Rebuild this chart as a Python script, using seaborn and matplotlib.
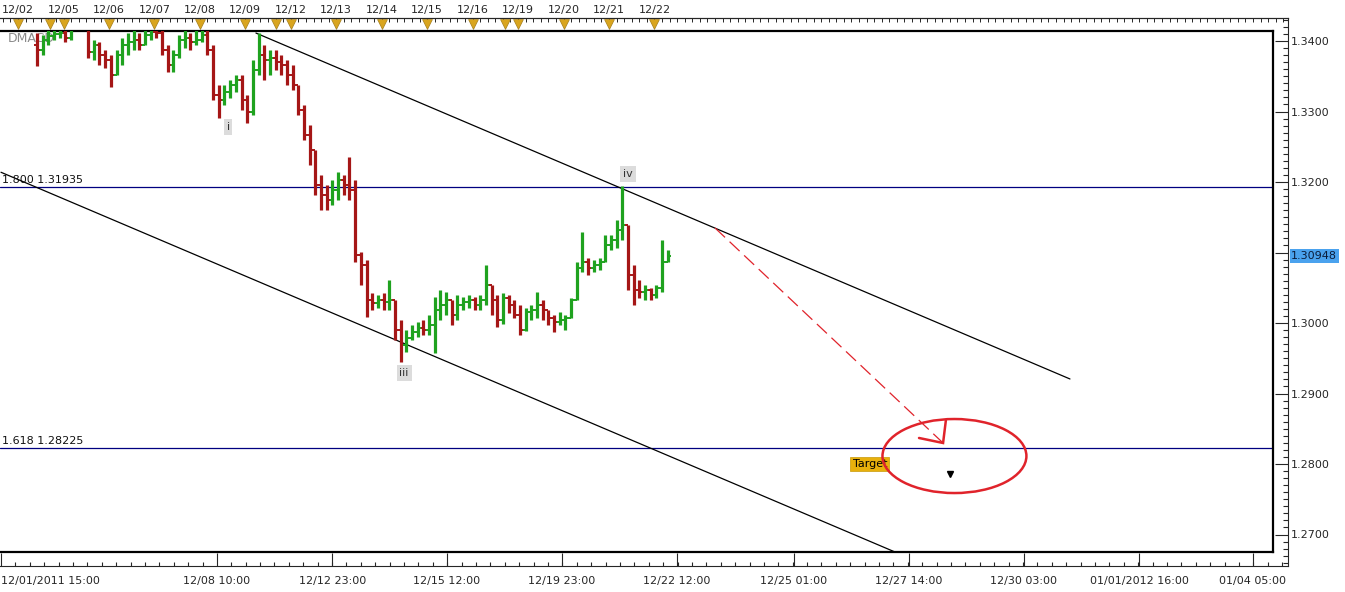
#!/usr/bin/env python3
"""
EUR/USD hourly bars with wave count, falling channel and the 1.618 target.

Usage:
    python plot.py
"""

import matplotlib
matplotlib.use("Agg")
import matplotlib.pyplot as plt
import numpy as np
import pandas as pd
import seaborn as sns
from matplotlib.patches import Ellipse
from matplotlib.ticker import FixedLocator

# ---- price bars (3-hour bars, open = previous close) ----
BAR_START = 19      # trading hours after 12/01 15:00
BAR_STEP = 3
FIRST_OPEN = 1.3395
CLOSE = [1.3387, 1.3401, 1.3407, 1.3410, 1.3411, 1.3404, 1.3425, 1.3435, 1.3422, 1.3384,
         1.3394, 1.3380, 1.3373, 1.3352, 1.3380, 1.3394, 1.3399, 1.3401, 1.3394, 1.3409,
         1.3413, 1.3411, 1.3387, 1.3366, 1.3380, 1.3401, 1.3404, 1.3399, 1.3401, 1.3409,
         1.3387, 1.3323, 1.3316, 1.3328, 1.3338, 1.3345, 1.3316, 1.3299, 1.3359, 1.3380,
         1.3373, 1.3376, 1.3370, 1.3366, 1.3352, 1.3338, 1.3302, 1.3267, 1.3245, 1.3196,
         1.3182, 1.3174, 1.3189, 1.3203, 1.3196, 1.3189, 1.3096, 1.3082, 1.3033, 1.3028,
         1.3033, 1.3030, 1.3033, 1.2990, 1.2969, 1.2979, 1.2987, 1.2993, 1.2990, 1.2997,
         1.3018, 1.3026, 1.3033, 1.3011, 1.3026, 1.3030, 1.3033, 1.3026, 1.3033, 1.3054,
         1.3033, 1.3004, 1.3035, 1.3026, 1.3011, 1.2990, 1.3016, 1.3018, 1.3026, 1.3018,
         1.3007, 1.3001, 1.3004, 1.3007, 1.3033, 1.3078, 1.3087, 1.3078, 1.3082, 1.3087,
         1.3111, 1.3118, 1.3132, 1.3139, 1.3068, 1.3047, 1.3044, 1.3047, 1.3040, 1.3050,
         1.3087, 1.3095]
HIGH = [1.3411, 1.3409, 1.3416, 1.3418, 1.3420, 1.3416, 1.3432, 1.3440, 1.3438, 1.3425,
        1.3401, 1.3399, 1.3387, 1.3380, 1.3387, 1.3404, 1.3411, 1.3416, 1.3411, 1.3418,
        1.3422, 1.3425, 1.3418, 1.3394, 1.3387, 1.3409, 1.3416, 1.3411, 1.3417, 1.3420,
        1.3418, 1.3394, 1.3338, 1.3338, 1.3345, 1.3352, 1.3352, 1.3323, 1.3373, 1.3411,
        1.3394, 1.3387, 1.3387, 1.3380, 1.3373, 1.3366, 1.3338, 1.3309, 1.3281, 1.3245,
        1.3210, 1.3196, 1.3203, 1.3214, 1.3210, 1.3235, 1.3203, 1.3101, 1.3089, 1.3043,
        1.3040, 1.3043, 1.3061, 1.3033, 1.3004, 1.2990, 1.2997, 1.3001, 1.3004, 1.3011,
        1.3037, 1.3047, 1.3044, 1.3033, 1.3040, 1.3037, 1.3040, 1.3037, 1.3040, 1.3082,
        1.3054, 1.3040, 1.3043, 1.3040, 1.3033, 1.3026, 1.3021, 1.3026, 1.3044, 1.3033,
        1.3018, 1.3011, 1.3016, 1.3011, 1.3035, 1.3087, 1.3129, 1.3092, 1.3089, 1.3092,
        1.3125, 1.3125, 1.3146, 1.3194, 1.3139, 1.3082, 1.3061, 1.3054, 1.3050, 1.3054,
        1.3118, 1.3104]
LOW = [1.3365, 1.3380, 1.3394, 1.3401, 1.3404, 1.3399, 1.3402, 1.3420, 1.3418, 1.3376,
       1.3373, 1.3366, 1.3362, 1.3335, 1.3352, 1.3366, 1.3380, 1.3387, 1.3387, 1.3394,
       1.3401, 1.3404, 1.3380, 1.3356, 1.3356, 1.3376, 1.3390, 1.3387, 1.3394, 1.3399,
       1.3380, 1.3316, 1.3291, 1.3309, 1.3319, 1.3328, 1.3302, 1.3284, 1.3295, 1.3352,
       1.3345, 1.3352, 1.3359, 1.3352, 1.3338, 1.3330, 1.3295, 1.3260, 1.3224, 1.3182,
       1.3160, 1.3160, 1.3167, 1.3174, 1.3182, 1.3174, 1.3087, 1.3054, 1.3009, 1.3018,
       1.3021, 1.3018, 1.3018, 1.2976, 1.2945, 1.2959, 1.2976, 1.2980, 1.2983, 1.2983,
       1.2957, 1.3004, 1.3011, 1.2997, 1.3004, 1.3018, 1.3021, 1.3018, 1.3018, 1.3026,
       1.3011, 1.2994, 1.2999, 1.3014, 1.3007, 1.2983, 1.2988, 1.3004, 1.3007, 1.3004,
       1.2997, 1.2987, 1.2997, 1.2990, 1.3007, 1.3033, 1.3072, 1.3068, 1.3072, 1.3075,
       1.3087, 1.3104, 1.3106, 1.3118, 1.3047, 1.3026, 1.3035, 1.3033, 1.3033, 1.3035,
       1.3044, 1.3087]
LAST_PRICE = 1.30948

# ---- axes labels ----
DAY_HOURS = [9, 33, 57, 81, 105, 129, 153, 177, 201, 225, 249, 273, 297, 321, 345]
DAY_LABELS = ["12/02", "12/05", "12/06", "12/07", "12/08", "12/09", "12/12", "12/13",
              "12/14", "12/15", "12/16", "12/19", "12/20", "12/21", "12/22"]
EVENT_HOURS = [9, 26, 33, 57, 81, 105, 129, 145, 153, 177, 201, 225, 249, 266, 273,
               297, 321, 345]
TIME_HOURS = [0, 114, 175, 235.5, 296, 357, 418.5, 479.5, 540, 601, 661]
TIME_LABELS = ["12/01/2011 15:00", "12/08 10:00", "12/12 23:00", "12/15 12:00",
               "12/19 23:00", "12/22 12:00", "12/25 01:00", "12/27 14:00",
               "12/30 03:00", "01/01/2012 16:00", "01/04 05:00"]
PRICE_TICKS = [1.27, 1.28, 1.29, 1.30, 1.31, 1.32, 1.33, 1.34]
PRICE_LABELS = ["1.2700", "1.2800", "1.2900", "1.3000", "", "1.3200", "1.3300", "1.3400"]

# ---- drawings ----
FIB_LEVELS = [1.31935, 1.28225]
FIB_LABELS = ["1.800 1.31935", "1.618 1.28225"]
UPPER_X, UPPER_Y = [134.6, 564.4], [1.34113, 1.29206]
LOWER_X, LOWER_Y = [0.0, 472.0], [1.32138, 1.26752]
WAVE_LABELS = ["i", "iii", "iv"]
WAVE_HOURS = [119.9, 212.8, 331.1]
WAVE_PRICES = [1.3278, 1.2929, 1.3211]
ARROW_X, ARROW_Y = [377.0, 497.4], [1.31348, 1.28298]
HEAD_X, HEAD_Y = [498.9, 497.4, 484.7], [1.28624, 1.28298, 1.28369]
TARGET_CENTER = (503.4, 1.28113)
TARGET_SIZE = (76.0, 0.0105)
TARGET_MARK = (501.0, 1.27858)
TARGET_BOX = (458.8, 1.2800)

UP, DOWN = "#1FA21F", "#A51616"
FIB_COLOR = "#000080"
RED = "#E0232B"

W, H = 1345, 592
PX_PER_HOUR = 1.894
PX_PER_PRICE = 7050.0


def h_of(px):
    return (px - 1) / PX_PER_HOUR


def p_of(py):
    return 1.3400 - (py - 41) / PX_PER_PRICE


def rect(x0, y0, x1, y1):
    return [x0 / W, 1 - y1 / H, (x1 - x0) / W, (y1 - y0) / H]


def draw_frame(fig):
    outer = fig.add_axes(rect(0, 18, 1288, 566))
    outer.set_zorder(0)
    outer.set_facecolor("white")
    outer.set_xlim(h_of(0), h_of(1288))
    outer.set_ylim(p_of(566), p_of(18))
    outer.spines["left"].set_visible(False)
    for s in ("top", "right", "bottom"):
        outer.spines[s].set_linewidth(0.8)

    outer.yaxis.set_major_locator(FixedLocator(PRICE_TICKS))
    outer.set_yticklabels(PRICE_LABELS)
    outer.yaxis.set_minor_locator(FixedLocator(np.arange(1.266, 1.3435, 0.001)))
    outer.tick_params(axis="y", which="both", left=False, right=True, labelleft=False,
                      labelright=True, direction="in", labelsize=8, pad=2, width=0.8)
    outer.tick_params(axis="y", which="major", length=9.4)
    outer.tick_params(axis="y", which="minor", length=3.6)

    outer.set_xticks(TIME_HOURS, TIME_LABELS)
    outer.xaxis.set_minor_locator(FixedLocator(np.arange(114 - 7.6 * 15, 680, 7.6)))
    outer.tick_params(axis="x", which="both", bottom=True, top=False, direction="in",
                      labelsize=8, pad=7, width=0.8)
    outer.tick_params(axis="x", which="major", length=9.4)
    outer.tick_params(axis="x", which="minor", length=3)
    outer.get_xticklabels()[0].set_ha("left")

    # date ruler along the top
    sec = outer.secondary_xaxis("top")
    sec.set_xticks(DAY_HOURS, DAY_LABELS)
    sec.xaxis.set_minor_locator(FixedLocator(np.arange(1, 680, 4)))
    sec.tick_params(which="both", direction="in", width=0.7, labelsize=8, pad=2)
    sec.tick_params(which="major", length=4.5)
    sec.tick_params(which="minor", length=3)
    sec.spines["top"].set_linewidth(0.8)
    outer.scatter(EVENT_HOURS, [0.989] * len(EVENT_HOURS),
                  transform=outer.get_xaxis_transform(), marker="v", s=50,
                  c="#D9A51E", edgecolors="#A57E1A", linewidths=0.5,
                  zorder=5, clip_on=False)

    # last price flag
    outer.text(1.0025, LAST_PRICE, f"{LAST_PRICE:.5f}", transform=outer.get_yaxis_transform(),
               ha="left", va="center", fontsize=8, color="#0B1C3A", zorder=6,
               bbox=dict(boxstyle="square,pad=0.15", fc="#4AA2EE", ec="none"))
    return outer


def draw_bars(ax):
    df = pd.DataFrame({"high": HIGH, "low": LOW, "close": CLOSE})
    df["hour"] = BAR_START + BAR_STEP * np.arange(len(df))
    df["open"] = [FIRST_OPEN] + CLOSE[:-1]
    df["up"] = df["close"] >= df["open"]
    for up, sub in df.groupby("up"):
        col = UP if up else DOWN
        ax.vlines(sub["hour"], sub["low"], sub["high"], color=col, lw=2.3, zorder=3)
        ax.hlines(sub["open"], sub["hour"] - 1.5, sub["hour"], color=col, lw=1.4, zorder=3)
        ax.hlines(sub["close"], sub["hour"], sub["hour"] + 1.5, color=col, lw=1.4, zorder=3)


def draw_studies(ax):
    for level, label in zip(FIB_LEVELS, FIB_LABELS):
        ax.axhline(level, color=FIB_COLOR, lw=0.9, zorder=2)
        ax.text(h_of(2), level + 0.00025, label, fontsize=8, color="#111111",
                ha="left", va="bottom", zorder=4)

    sns.lineplot(x=UPPER_X, y=UPPER_Y, ax=ax, color="black", lw=0.9, zorder=2)
    sns.lineplot(x=LOWER_X, y=LOWER_Y, ax=ax, color="black", lw=0.9, zorder=2)

    for lab, hx, py in zip(WAVE_LABELS, WAVE_HOURS, WAVE_PRICES):
        ax.text(hx, py, lab, fontsize=8, color="#333333", ha="center", va="center",
                zorder=5, bbox=dict(boxstyle="square,pad=0.25", fc="#DCDCDC", ec="none"))

    ax.plot(ARROW_X, ARROW_Y, color=RED, lw=0.9, dashes=(11, 5), zorder=4)
    ax.plot(HEAD_X, HEAD_Y, color=RED, lw=1.8, zorder=4, solid_joinstyle="miter")
    ax.add_patch(Ellipse(TARGET_CENTER, *TARGET_SIZE, fill=False, ec=RED, lw=1.8, zorder=4))
    ax.plot(*TARGET_MARK, marker="v", ms=4, color="black", zorder=5)
    ax.text(*TARGET_BOX, "Target", fontsize=8, color="black", ha="center", va="center",
            zorder=3, bbox=dict(boxstyle="square,pad=0.2", fc="#E8B00C", ec="#C99A08", lw=0.5))


def main():
    sns.set_style("white")
    plt.rcParams["font.family"] = ["DejaVu Sans"]

    fig = plt.figure(figsize=(W / 100, H / 100), dpi=100)
    fig.patch.set_facecolor("white")
    draw_frame(fig)

    ax = fig.add_axes(rect(0, 31, 1273, 552))
    ax.set_zorder(2)
    ax.set_facecolor("white")
    ax.set_xlim(h_of(0), h_of(1273))
    ax.set_ylim(p_of(552), p_of(31))
    ax.set_xticks([])
    ax.set_yticks([])
    ax.spines["left"].set_visible(False)
    for s in ("top", "right", "bottom"):
        ax.spines[s].set_linewidth(1.6)
        ax.spines[s].set_color("black")

    ax.text(h_of(8), p_of(39), "DMACD", fontsize=9, color="#8A8A8A",
            ha="left", va="center", zorder=1)
    draw_bars(ax)
    draw_studies(ax)

    fig.savefig("out.png", dpi=100, facecolor=fig.get_facecolor())
    plt.close(fig)


if __name__ == "__main__":
    main()
